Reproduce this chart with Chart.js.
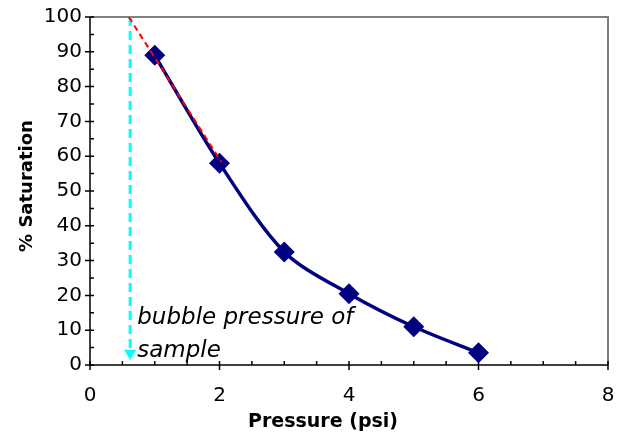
<!DOCTYPE html>
<html>
<head>
<meta charset="utf-8">
<script src="https://cdn.jsdelivr.net/npm/chart.js@4/dist/chart.umd.min.js"></script>
<style>
  html, body { margin: 0; padding: 0; background: #fff; }
  #wrap { width: 623px; height: 441px; }
</style>
</head>
<body>
<div id="wrap"><canvas id="satChart" width="623" height="441"></canvas></div>
<script>
const pressure = [1, 2, 3, 4, 5, 6];
const saturation = [89, 58, 32.5, 20.5, 11, 3.5];
const xTicks = [0, 2, 4, 6, 8];
const yTicks = [0, 10, 20, 30, 40, 50, 60, 70, 80, 90, 100];
// bubble pressure marker and the tangent through the first points
const bubbleX = [0.62, 0.62];
const bubbleY = [100, 3.4];
const tangentX = [0.6, 2.03];
const tangentY = [100, 58.3];

const font = "'DejaVu Sans', sans-serif";
const ctx = document.getElementById("satChart").getContext("2d");

const axesPlugin = {
    id: "axesPlugin",
    beforeDatasetsDraw(chart) {
        const c = chart.ctx;
        const a = chart.chartArea;
        const xs = chart.scales.x;
        const ys = chart.scales.y;
        c.save();
        // frame (top and right)
        c.strokeStyle = "#808080";
        c.lineWidth = 2;
        c.beginPath();
        c.moveTo(a.left, a.top);
        c.lineTo(a.right, a.top);
        c.lineTo(a.right, a.bottom);
        c.stroke();
        // axes
        c.strokeStyle = "#000";
        c.lineWidth = 1.5;
        c.beginPath();
        c.moveTo(a.left, a.top);
        c.lineTo(a.left, a.bottom);
        c.lineTo(a.right, a.bottom);
        c.stroke();
        c.beginPath();
        for (let v = 0; v <= 100; v += 5) {
            const y = ys.getPixelForValue(v);
            const major = v % 10 === 0;
            c.moveTo(a.left - (major ? 5 : 0), y);
            c.lineTo(a.left + 4, y);
        }
        for (let v = 0; v <= 8; v += 0.5) {
            const x = xs.getPixelForValue(v);
            const major = v % 2 === 0;
            c.moveTo(x, a.bottom - 4);
            c.lineTo(x, a.bottom + (major ? 5 : 0));
        }
        c.stroke();
        c.restore();
    },
    afterDraw(chart) {
        const c = chart.ctx;
        const xs = chart.scales.x;
        const ys = chart.scales.y;
        c.save();
        c.fillStyle = "#000";
        // annotation
        c.font = "italic 23px " + font;
        c.textAlign = "left";
        c.textBaseline = "alphabetic";
        c.fillText("bubble pressure of", xs.getPixelForValue(0.73), ys.getPixelForValue(11.8));
        c.fillText("sample", xs.getPixelForValue(0.73), ys.getPixelForValue(2.2));
        // axis titles
        c.font = "bold 19px " + font;
        c.textAlign = "center";
        c.fillText("Pressure (psi)", 323, 427);
        c.translate(32, 186);
        c.rotate(-Math.PI / 2);
        c.font = "bold 18px " + font;
        c.fillText("% Saturation", 0, 0);
        c.restore();
    }
};

new Chart(ctx, {
    type: "scatter",
    data: {
        datasets: [
            {
                label: "tangent",
                data: tangentX.map((x, i) => ({x: x, y: tangentY[i]})),
                showLine: true,
                borderColor: "#ff0000",
                borderWidth: 2,
                borderDash: [6, 4],
                pointRadius: 0,
                order: 0
            },
            {
                label: "Saturation",
                data: pressure.map((x, i) => ({x: x, y: saturation[i]})),
                showLine: true,
                tension: 0.3,
                borderColor: "#000080",
                borderWidth: 3.5,
                pointStyle: "rectRot",
                pointRadius: 10.5,
                pointBackgroundColor: "#000080",
                pointBorderColor: "#000080",
                pointBorderWidth: 0,
                order: 1
            },
            {
                label: "bubble",
                data: bubbleX.map((x, i) => ({x: x, y: bubbleY[i]})),
                showLine: true,
                borderColor: "#00ffff",
                borderWidth: 3,
                borderDash: [9, 5],
                pointStyle: "triangle",
                rotation: 180,
                pointRadius: [0, 7],
                pointBackgroundColor: "#00ffff",
                pointBorderWidth: 0,
                order: 2
            }
        ]
    },
    options: {
        responsive: false,
        animation: false,
        layout: {padding: {top: 17, right: 15, left: 0, bottom: 0}},
        plugins: {
            legend: {display: false},
            tooltip: {enabled: false}
        },
        scales: {
            x: {
                type: "linear",
                min: 0,
                max: 8,
                afterBuildTicks: (s) => { s.ticks = xTicks.map(v => ({value: v})); },
                afterFit: (s) => { s.height = 76; s.paddingLeft = 0; s.paddingRight = 0; },
                grid: {display: false, drawTicks: false},
                border: {display: false},
                ticks: {color: "#000", font: {family: font, size: 20}, padding: 19, maxRotation: 0}
            },
            y: {
                type: "linear",
                min: 0,
                max: 100,
                afterBuildTicks: (s) => { s.ticks = yTicks.map(v => ({value: v})); },
                afterFit: (s) => { s.width = 90; s.paddingTop = 0; s.paddingBottom = 0; },
                grid: {display: false, drawTicks: false},
                border: {display: false},
                ticks: {color: "#000", font: {family: font, size: 20}, padding: 8}
            }
        }
    },
    plugins: [axesPlugin]
});
</script>
</body>
</html>
